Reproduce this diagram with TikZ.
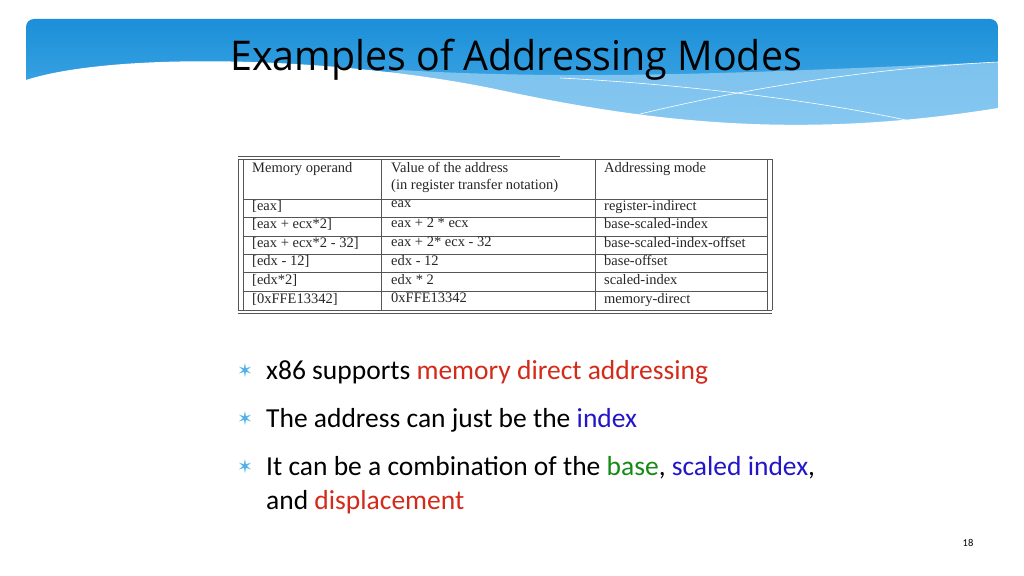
\documentclass[tikz,border=0pt]{standalone}
\usepackage{fontspec}
\setmainfont{Liberation Serif}
\newfontfamily\titlefont{Open Sans}
\newfontfamily\bodyfont{Carlito}
\newfontfamily\symfont{DejaVu Sans}
\definecolor{bluetop}{HTML}{1B8FD8}
\definecolor{bluemid}{HTML}{4FB0EA}
\definecolor{bluelight}{HTML}{9FD3F5}
\definecolor{myred}{HTML}{D42A1A}
\definecolor{myblue}{HTML}{2316C8}
\definecolor{mygreen}{HTML}{158A14}
\definecolor{tgray}{HTML}{555555}
\tikzset{cell/.style={anchor=north west,inner sep=0pt,font=\fontsize{14.5}{17.5}\selectfont,align=left,text=black!85},
 bul/.style={anchor=base west,inner sep=0pt,font=\bodyfont\fontsize{27.5}{30}\selectfont},
 star/.style={anchor=base west,inner sep=0pt,text=bluemid,font=\symfont\fontsize{19}{20}\selectfont},
 tl/.style={tgray,line width=0.6pt}}
\begin{document}
\begin{tikzpicture}[x=1pt,y=-1pt]
\useasboundingbox (0,0) rectangle (1024,575);
\fill[white] (0,0) rectangle (1024,575);
% banner
\begin{scope}
\clip[rounded corners=8pt] (26,19) rectangle (998,150);
\shade[top color=bluetop,bottom color=bluemid] (26,19) rectangle (998,135);
\fill[bluelight,opacity=0.7] (400,70) .. controls (600,82) and (800,70) .. (998,62) -- (998,135) -- (26,135) -- cycle;
\fill[white] (26,80) .. controls (120,50) and (350,58) .. (500,90) .. controls (650,122) and (800,140) .. (998,108) -- (998,150) -- (26,150) -- cycle;
\draw[white,line width=0.6pt] (640,114) .. controls (760,85) and (880,68) .. (998,62);
\draw[white,line width=0.6pt] (560,78) .. controls (700,85) and (850,105) .. (940,128);
\end{scope}
\node[font=\titlefont\fontsize{41}{44}\selectfont,inner sep=0pt,xscale=0.96] (title) at (516,60) {Examples of Addressing Modes};
% table
\draw[tl] (238,156) -- (560,156);
\draw[tl] (238,159) -- (772,159);
\foreach \x in {238,243,381,595,767,772} \draw[tl] (\x,159) -- (\x,310);
\foreach \y in {199,217,236,254,272,291} \draw[tl] (243,\y) -- (767,\y);
\draw[tl] (238,310) -- (772,310);
\draw[tl] (238,313) -- (772,313);
\node[cell] (h1) at (252,162) {Memory operand};
\node[cell] (h2) at (391,162) {Value of the address\\(in register transfer notation)};
\node[cell] (h3) at (604,162) {Addressing mode};
\foreach \y/\a/\b/\c in {200/{[eax]}/eax/register-indirect,
 218/{[eax + ecx*2]}/{eax + 2 * ecx}/base-scaled-index,
 237/{[eax + ecx*2 - 32]}/{eax + 2* ecx - 32}/base-scaled-index-offset,
 255/{[edx - 12]}/{edx - 12}/base-offset,
 274/{[edx*2]}/{edx * 2}/scaled-index,
 293/{[0xFFE13342]}/{0xFFE13342}/memory-direct}{
 \node[cell] at (252,\y) {\a};
 \node[cell] at (391,\y) {\b};
 \node[cell] at (604,\y) {\c};}
% bullets
\node[star] (s1) at (237,377) {✶};
\node[star] (s2) at (237,425) {✶};
\node[star] (s3) at (237,473) {✶};
\node[bul] (b1) at (266,379) {x86 supports \textcolor{myred}{memory direct addressing}};
\node[bul] (b2) at (266,427) {The address can just be the \textcolor{myblue}{index}};
\node[bul] (b3) at (266,475) {It can be a combination of the \textcolor{mygreen}{base}, \textcolor{myblue}{scaled index},};
\node[bul] (b4) at (266,509) {and \textcolor{myred}{displacement}};
\node[font=\bodyfont\fontsize{10.5}{12}\selectfont,inner sep=0pt] (pg) at (968,543) {18};
\end{tikzpicture}
\end{document}
